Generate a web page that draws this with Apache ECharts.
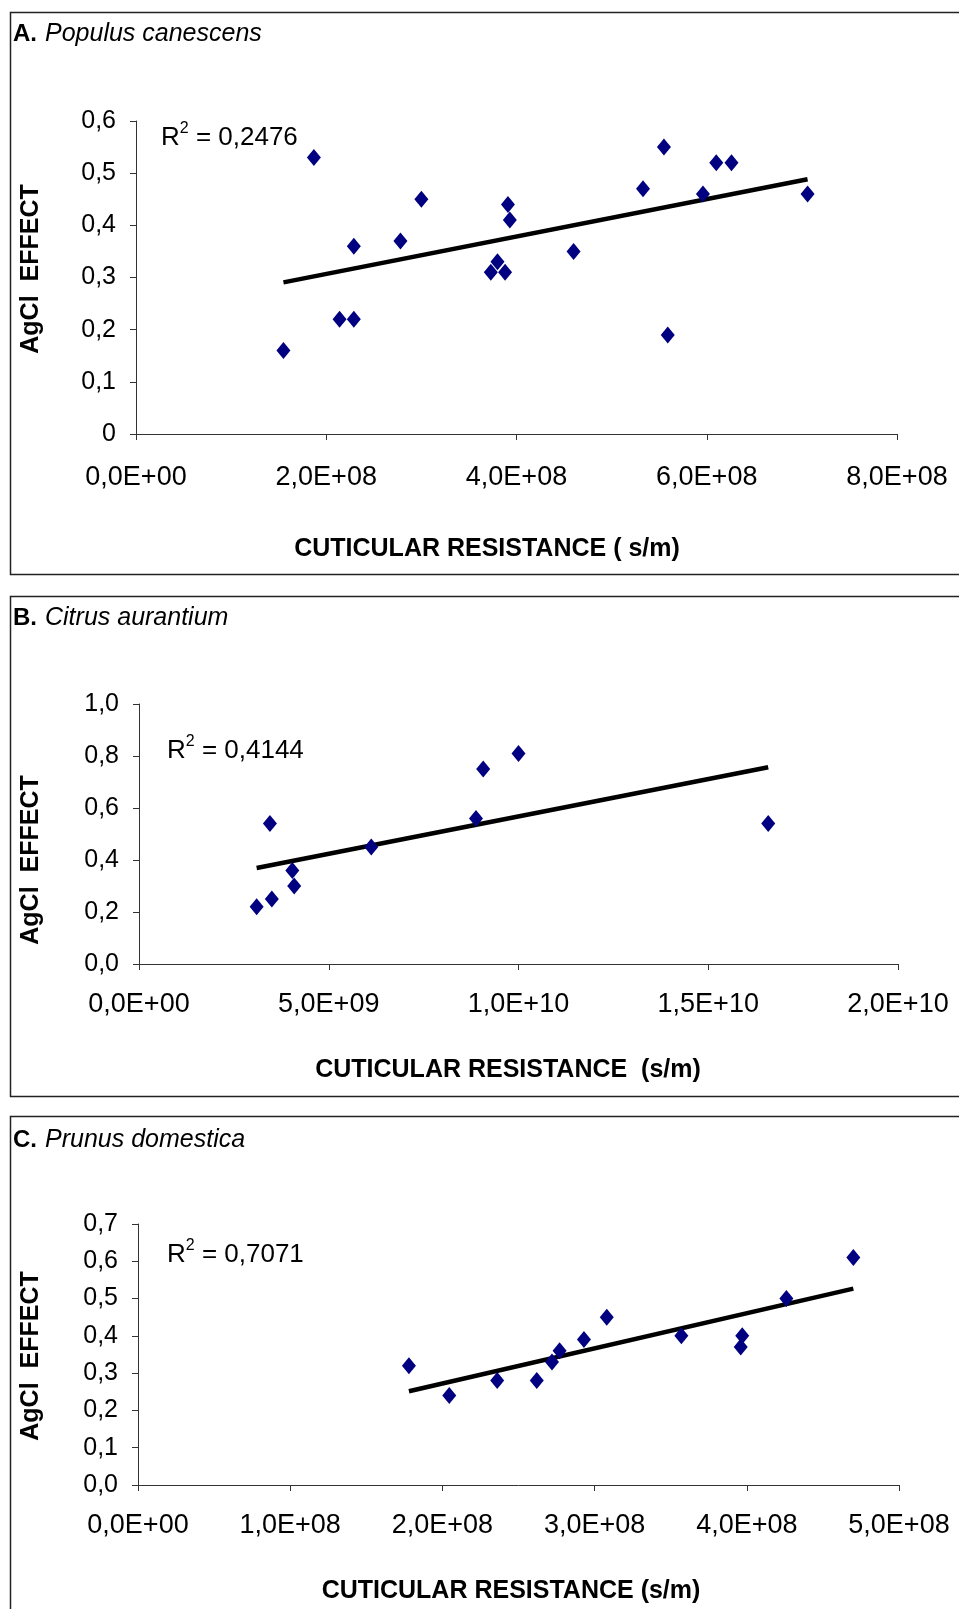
<!DOCTYPE html>
<html>
<head>
<meta charset="utf-8">
<script src="https://cdn.jsdelivr.net/npm/echarts@6/dist/echarts.min.js"></script>
<style>
  html, body { margin: 0; padding: 0; background: #fff; }
  #chart { width: 959px; height: 1609px; }
</style>
</head>
<body>
<div id="chart"></div>
<script>
// A. Populus canescens — cuticular resistance (s/m) vs AgCl effect
const populusX = [1.55e8, 1.87e8, 2.14e8, 2.29e8, 2.29e8, 2.78e8, 3.00e8, 3.73e8, 3.80e8, 3.88e8,
                  3.91e8, 3.93e8, 4.60e8, 5.33e8, 5.55e8, 5.59e8, 5.96e8, 6.10e8, 6.26e8, 7.06e8];
const populusY = [0.16, 0.53, 0.22, 0.22, 0.36, 0.37, 0.45, 0.31, 0.33, 0.31,
                  0.44, 0.41, 0.35, 0.47, 0.55, 0.19, 0.46, 0.52, 0.52, 0.46];

// B. Citrus aurantium
const citrusX = [3.10e9, 3.45e9, 3.50e9, 4.04e9, 4.09e9, 6.12e9, 8.88e9, 9.07e9, 1.00e10, 1.658e10];
const citrusY = [0.22, 0.54, 0.25, 0.36, 0.30, 0.45, 0.56, 0.75, 0.81, 0.54];

// C. Prunus domestica
const prunusX = [1.78e8, 2.045e8, 2.36e8, 2.62e8, 2.72e8, 2.77e8, 2.93e8, 3.08e8, 3.57e8, 3.96e8, 3.97e8, 4.26e8, 4.70e8];
const prunusY = [0.32, 0.24, 0.28, 0.28, 0.33, 0.36, 0.39, 0.45, 0.40, 0.37, 0.40, 0.50, 0.61];

// Panel captions and fit statistics
const panelLetters = ['A.', 'B.', 'C.'];
const panelSpecies = ['Populus canescens', 'Citrus aurantium', 'Prunus domestica'];
const rSquared = ['0,2476', '0,4144', '0,7071'];
const xTitles = ['CUTICULAR RESISTANCE ( s/m)', 'CUTICULAR RESISTANCE  (s/m)', 'CUTICULAR RESISTANCE (s/m)'];
const yTitle = 'AgCl  EFFECT';

// Axis ranges
const xMax = [8e8, 2e10, 5e8];
const xStep = [2e8, 5e9, 1e8];
const yMax = [0.6, 1.0, 0.7];
const yStep = [0.1, 0.2, 0.1];
const yDecimalsForZero = [false, true, true];

const FONT = '"Liberation Sans", Arial, sans-serif';
const AXIS_COLOR = '#333';
const MARKER_COLOR = '#000080';

// Panel geometry (pixels)
const grids = [
  { left: 136, top: 121, width: 761, height: 313 },
  { left: 139, top: 704, width: 759, height: 260 },
  { left: 138, top: 1224, width: 761, height: 261 }
];
const xLabelMargin = [30, 27, 27];
const frames = [
  { y: 12, h: 562 },
  { y: 596, h: 500 },
  { y: 1116, h: 520 }
];

function fmtExp(v) {
  if (v === 0) return '0,0E+00';
  const s = v.toExponential(1);          // e.g. "2.0e+8"
  const parts = s.split('e');
  const mant = parts[0].replace('.', ',');
  let exp = parseInt(parts[1], 10);
  const sign = exp < 0 ? '-' : '+';
  exp = Math.abs(exp);
  return mant + 'E' + sign + (exp < 10 ? '0' + exp : '' + exp);
}

function fmtY(showZeroDecimal) {
  return function (v) {
    if (Math.abs(v) < 1e-9) return showZeroDecimal ? '0,0' : '0';
    return v.toFixed(1).replace('.', ',');
  };
}

// Least-squares line through a set of points, spanning the observed x range
function fitLine(xs, ys) {
  const n = xs.length;
  let sx = 0, sy = 0, sxx = 0, sxy = 0;
  for (let i = 0; i < n; i++) {
    sx += xs[i]; sy += ys[i]; sxx += xs[i] * xs[i]; sxy += xs[i] * ys[i];
  }
  const slope = (n * sxy - sx * sy) / (n * sxx - sx * sx);
  const icpt = (sy - slope * sx) / n;
  const x0 = Math.min.apply(null, xs), x1 = Math.max.apply(null, xs);
  return [[x0, icpt + slope * x0], [x1, icpt + slope * x1]];
}

const datasets = [[populusX, populusY], [citrusX, citrusY], [prunusX, prunusY]];

const option = {
  backgroundColor: '#fff',
  animation: false,
  grid: grids.map(g => Object.assign({ containLabel: false }, g)),
  xAxis: grids.map((g, i) => ({
    type: 'value',
    gridIndex: i,
    min: 0,
    max: xMax[i],
    interval: xStep[i],
    splitLine: { show: false },
    axisLine: { show: true, onZero: false, lineStyle: { color: AXIS_COLOR, width: 1 } },
    axisTick: { show: true, inside: false, length: 6, lineStyle: { color: AXIS_COLOR, width: 1 } },
    axisLabel: {
      color: '#000', fontFamily: FONT, fontSize: 27, margin: xLabelMargin[i],
      formatter: fmtExp
    }
  })),
  yAxis: grids.map((g, i) => ({
    type: 'value',
    gridIndex: i,
    min: 0,
    max: yMax[i],
    interval: yStep[i],
    splitLine: { show: false },
    axisLine: { show: true, onZero: false, lineStyle: { color: AXIS_COLOR, width: 1 } },
    axisTick: { show: true, inside: false, length: 6, lineStyle: { color: AXIS_COLOR, width: 1 } },
    axisLabel: {
      color: '#000', fontFamily: FONT, fontSize: 25, margin: 20,
      formatter: fmtY(yDecimalsForZero[i])
    }
  })),
  series: []
};

datasets.forEach((d, i) => {
  const pts = d[0].map((x, k) => [x, d[1][k]]);
  option.series.push({
    type: 'line',
    xAxisIndex: i, yAxisIndex: i,
    data: fitLine(d[0], d[1]),
    symbol: 'none',
    lineStyle: { color: '#000', width: 4.5 },
    z: 2,
    silent: true
  });
  option.series.push({
    type: 'scatter',
    xAxisIndex: i, yAxisIndex: i,
    data: pts,
    symbol: 'diamond',
    symbolSize: [14, 17],
    itemStyle: { color: MARKER_COLOR, opacity: 1 },
    z: 3
  });
});

// Frames, captions, axis titles and R² annotations
const rLabelPos = [[161, 136], [167, 749], [167, 1253]];
const captionY = [34, 618, 1140];
const xTitlePos = [[487, 549], [508, 1070], [511, 1591]];
const yTitleY = [269, 860, 1356];

const graphics = [];
frames.forEach((f, i) => {
  graphics.push({
    type: 'rect',
    shape: { x: 10.5, y: f.y + 0.5, width: 980, height: f.h },
    style: { fill: 'none', stroke: '#222', lineWidth: 1.5 },
    z: 0
  });
  graphics.push({
    type: 'text',
    x: 13, y: captionY[i],
    style: {
      text: '{b|' + panelLetters[i] + '}{i|' + panelSpecies[i] + '}',
      verticalAlign: 'middle',
      rich: {
        b: { fontFamily: FONT, fontSize: 24, fontWeight: 'bold', fill: '#000', padding: [0, 8, 0, 0] },
        i: { fontFamily: FONT, fontSize: 25, fontStyle: 'italic', fill: '#000' }
      }
    },
    z: 5
  });
  graphics.push({
    type: 'text',
    x: xTitlePos[i][0], y: xTitlePos[i][1],
    style: {
      text: xTitles[i],
      fontFamily: FONT, fontSize: 25, fontWeight: 'bold', fill: '#000',
      align: 'center', verticalAlign: 'middle'
    },
    z: 5
  });
  graphics.push({
    type: 'text',
    x: 31, y: yTitleY[i],
    rotation: Math.PI / 2,
    style: {
      text: yTitle,
      fontFamily: FONT, fontSize: 25, fontWeight: 'bold', fill: '#000',
      align: 'center', verticalAlign: 'middle'
    },
    z: 5
  });
  graphics.push({
    type: 'text',
    x: rLabelPos[i][0], y: rLabelPos[i][1],
    style: {
      text: '{r|R}{s|2}{r| = ' + rSquared[i] + '}',
      verticalAlign: 'middle',
      rich: {
        r: { fontFamily: FONT, fontSize: 26, fill: '#000', verticalAlign: 'bottom', lineHeight: 30 },
        s: { fontFamily: FONT, fontSize: 16, fill: '#000', verticalAlign: 'top', lineHeight: 30 }
      }
    },
    z: 5
  });
});
option.graphic = graphics;

const chart = echarts.init(document.getElementById('chart'), null, { renderer: 'canvas' });
chart.setOption(option);
</script>
</body>
</html>
